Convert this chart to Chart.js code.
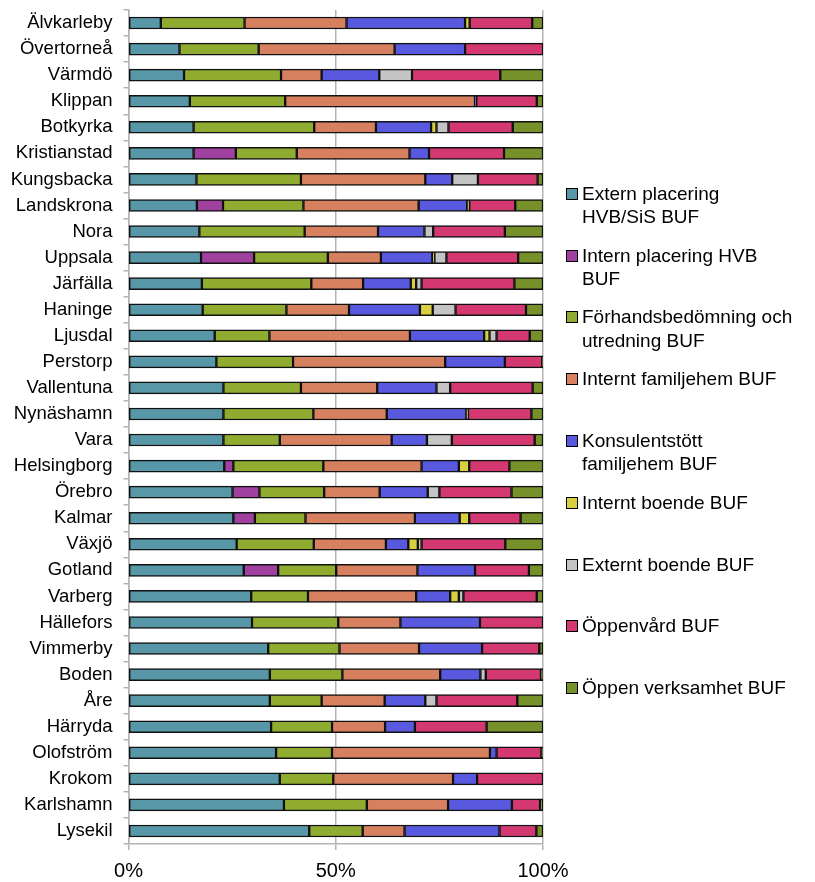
<!DOCTYPE html>
<html>
<head>
<meta charset="utf-8">
<script src="https://cdn.jsdelivr.net/npm/chart.js@4/dist/chart.umd.min.js"></script>
<style>
  body { margin: 0; background: #fff; }
  #wrap { position: relative; width: 815px; height: 882px; }
  #legend { position: absolute; left: 0; top: 0; font-family: 'Liberation Sans', Arial, sans-serif; font-size: 19px; color: #000; }
  .item { position: absolute; left: 566px; width: 250px; line-height: 23.5px; }
  .box { position: absolute; left: 0; top: 6px; width: 10px; height: 10px; border: 1px solid #000; }
  .txt { position: absolute; left: 16px; top: 0; white-space: nowrap; }
</style>
</head>
<body>
<div id="wrap">
  <canvas id="chart" width="815" height="882"></canvas>
  <div id="legend"></div>
</div>
<script>
// Categories (top to bottom)
const kommuner = ['Älvkarleby', 'Övertorneå', 'Värmdö', 'Klippan', 'Botkyrka', 'Kristianstad', 'Kungsbacka', 'Landskrona',
  'Nora', 'Uppsala', 'Järfälla', 'Haninge', 'Ljusdal', 'Perstorp', 'Vallentuna', 'Nynäshamn', 'Vara', 'Helsingborg',
  'Örebro', 'Kalmar', 'Växjö', 'Gotland', 'Varberg', 'Hällefors', 'Vimmerby', 'Boden', 'Åre', 'Härryda', 'Olofström',
  'Krokom', 'Karlshamn', 'Lysekil'];

// Andel per verksamhet (%)
const externPlacering = [7.8, 12.3, 13.4, 14.8, 15.7, 15.7, 16.4, 16.5, 17.1, 17.5, 17.7, 17.9, 20.8, 21.2, 22.9, 22.9, 22.9, 23.1, 25.1, 25.3, 26.1, 27.8, 29.6, 29.8, 33.7, 34.1, 34.1, 34.4, 35.6, 36.5, 37.5, 43.6];
const internPlacering = [0, 0, 0, 0, 0, 10.2, 0, 6.3, 0, 12.8, 0, 0, 0, 0, 0, 0, 0, 2.2, 6.5, 5.2, 0, 8.3, 0, 0, 0, 0, 0, 0, 0, 0, 0, 0];
const forhandsbedomning = [20.2, 19.1, 23.4, 23.0, 29.1, 14.7, 25.2, 19.4, 25.4, 17.8, 26.4, 20.2, 13.2, 18.5, 18.7, 21.7, 13.6, 21.7, 15.6, 12.2, 18.6, 14.0, 13.7, 20.8, 17.2, 17.5, 12.5, 14.7, 13.5, 12.9, 20.0, 12.9];
const interntFamiljehem = [24.6, 32.8, 9.8, 45.8, 14.9, 27.2, 30.0, 27.8, 17.7, 12.8, 12.5, 15.1, 33.9, 36.7, 18.4, 17.7, 27.0, 23.7, 13.4, 26.4, 17.4, 19.6, 26.1, 15.0, 19.2, 23.6, 15.2, 12.8, 38.1, 28.9, 19.6, 10.1];
const konsulentstott = [28.6, 17.0, 13.9, 0.3, 13.3, 4.7, 6.5, 11.7, 11.2, 12.4, 11.5, 17.1, 17.9, 14.4, 14.3, 19.2, 8.5, 9.0, 11.6, 10.8, 5.4, 13.9, 8.2, 19.2, 15.2, 9.7, 9.8, 7.2, 1.6, 5.8, 15.4, 22.9];
const interntBoende = [1.1, 0, 0, 0, 1.3, 0, 0, 0.5, 0, 0.5, 1.3, 3.1, 1.3, 0, 0, 0.4, 0, 2.5, 0, 2.3, 2.3, 0, 2.1, 0, 0, 0, 0, 0, 0, 0, 0, 0];
const externtBoende = [0, 0, 7.9, 0, 2.9, 0, 6.2, 0, 2.1, 2.9, 1.3, 5.5, 1.7, 0, 3.3, 0, 6.0, 0, 2.8, 0, 0.9, 0, 1.1, 0, 0, 1.3, 2.7, 0, 0, 0, 0, 0];
const oppenvard = [15.1, 18.8, 21.3, 14.6, 15.5, 18.1, 14.4, 11.1, 17.3, 17.3, 22.4, 17.0, 8.0, 9.0, 19.9, 15.3, 20.0, 9.7, 17.4, 12.4, 20.2, 13.0, 17.7, 15.2, 13.8, 13.3, 19.5, 17.3, 10.8, 15.9, 6.8, 8.9];
const oppenVerksamhet = [2.6, 0, 10.3, 1.5, 7.3, 9.4, 1.3, 6.7, 9.2, 6.0, 6.9, 4.1, 3.2, 0.2, 2.5, 2.8, 2.0, 8.1, 7.6, 5.4, 9.1, 3.4, 1.5, 0, 0.9, 0.5, 6.2, 13.6, 0.4, 0, 0.7, 1.6];

const xTicks = [0, 50, 100];

const series = [
  { lines: ['Extern placering', 'HVB/SiS BUF'], data: externPlacering, color: '#5897a8' },
  { lines: ['Intern placering HVB', 'BUF'], data: internPlacering, color: '#a041a0' },
  { lines: ['Förhandsbedömning och', 'utredning BUF'], data: forhandsbedomning, color: '#90ac30' },
  { lines: ['Internt familjehem BUF'], data: interntFamiljehem, color: '#d68060' },
  { lines: ['Konsulentstött', 'familjehem BUF'], data: konsulentstott, color: '#5959e0' },
  { lines: ['Internt boende BUF'], data: interntBoende, color: '#d8d040' },
  { lines: ['Externt boende BUF'], data: externtBoende, color: '#c4c4c4' },
  { lines: ['Öppenvård BUF'], data: oppenvard, color: '#d43870' },
  { lines: ['Öppen verksamhet BUF'], data: oppenVerksamhet, color: '#76902a' }
];

const font = "'Liberation Sans', Arial, sans-serif";
const gridGray = '#b4b4b4';

new Chart(document.getElementById('chart'), {
  type: 'bar',
  data: {
    labels: kommuner,
    datasets: series.map(s => ({
      label: s.lines.join(' '),
      data: s.data,
      backgroundColor: s.color,
      borderColor: '#111',
      borderWidth: 1.5,
      borderSkipped: false,
      barThickness: 12
    }))
  },
  options: {
    indexAxis: 'y',
    responsive: false,
    animation: false,
    layout: { padding: { top: 10, right: 272, left: 0, bottom: 0 } },
    plugins: { legend: { display: false }, tooltip: { enabled: false } },
    scales: {
      x: {
        stacked: true,
        min: 0,
        max: 100,
        afterBuildTicks: s => { s.ticks = xTicks.map(v => ({ value: v })); },
        afterFit: s => { s.height = 38; },
        grid: { color: gridGray, lineWidth: 1.5, tickLength: 6 },
        border: { color: gridGray, width: 1.5 },
        ticks: { color: '#000', font: { family: font, size: 20 }, padding: 9, callback: v => v + '%' }
      },
      y: {
        stacked: true,
        afterFit: s => { s.width = 128.5; s.paddingTop = 0; s.paddingBottom = 0; },
        grid: { offset: true, drawOnChartArea: false, color: gridGray, lineWidth: 1.5, tickLength: 5 },
        border: { color: gridGray, width: 1.5 },
        ticks: { color: '#000', font: { family: font, size: 18.5 }, padding: 11, autoSkip: false }
      }
    }
  }
});

// legend, evenly spaced entries like the original
const legend = document.getElementById('legend');
series.forEach((s, i) => {
  const item = document.createElement('div');
  item.className = 'item';
  item.style.top = (193.5 + i * 61.8 - 11.75) + 'px';
  item.innerHTML = `<div class="box" style="background:${s.color}"></div><div class="txt">${s.lines.join('<br>')}</div>`;
  legend.appendChild(item);
});
</script>
</body>
</html>
